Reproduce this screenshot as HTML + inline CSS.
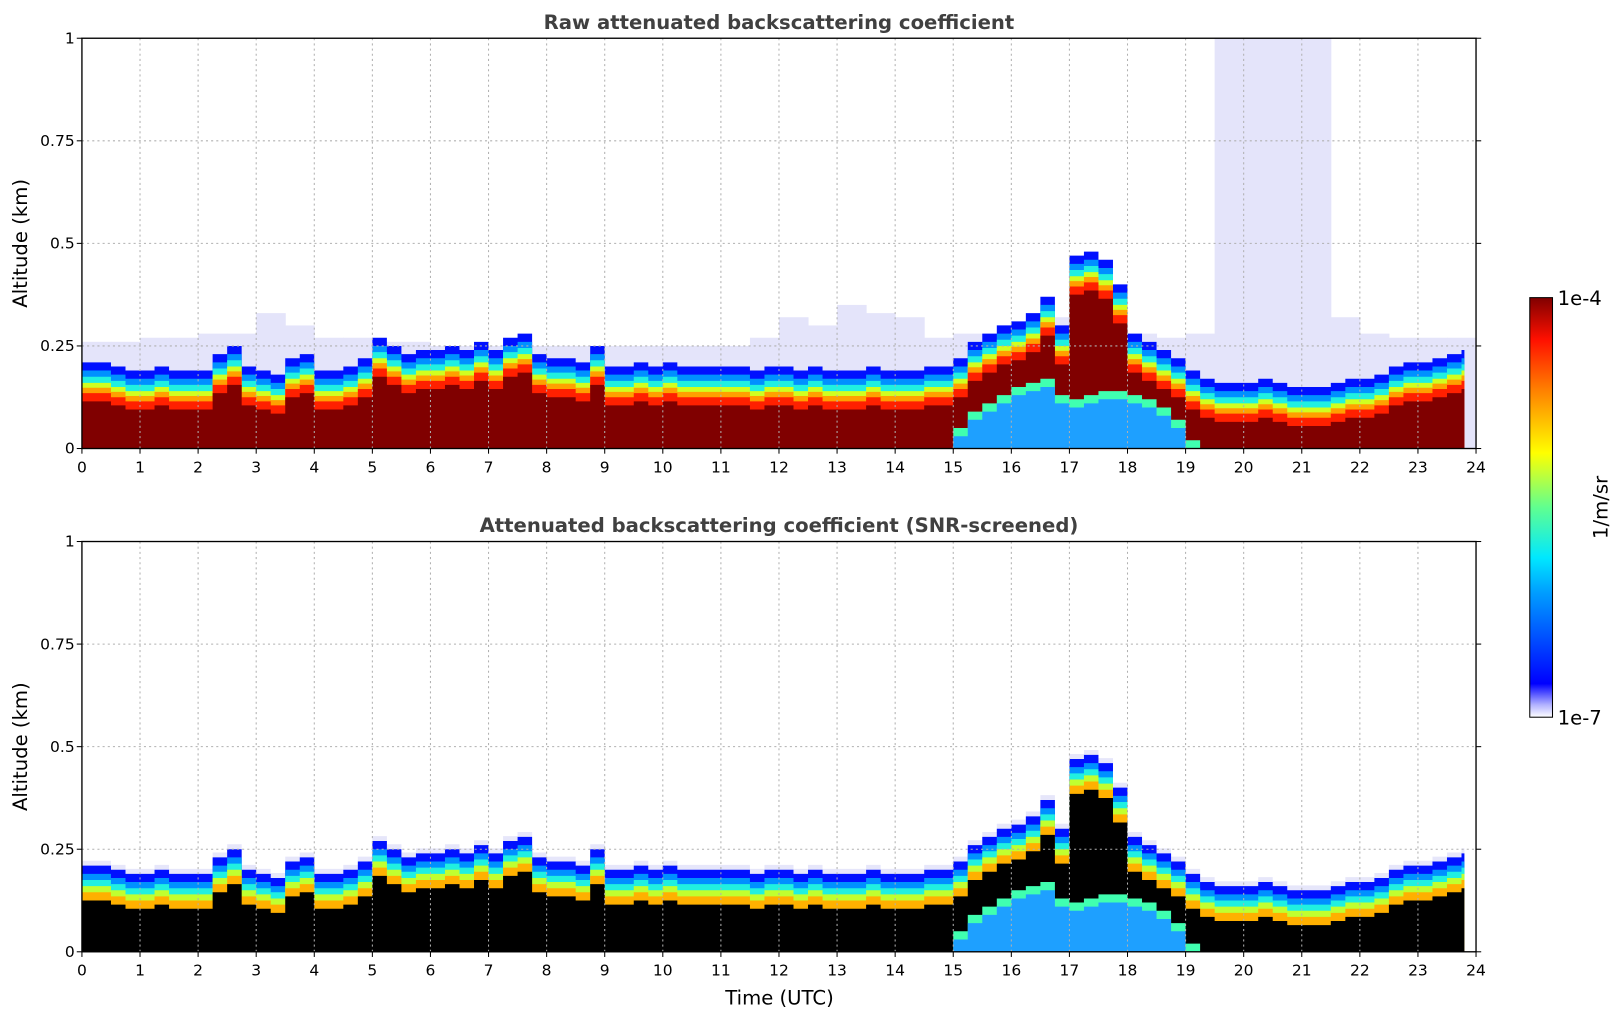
<!DOCTYPE html>
<html><head><meta charset="utf-8"><style>
body{margin:0;background:#fff;font-family:"Liberation Sans","DejaVu Sans",sans-serif}
svg text{font-family:"DejaVu Sans","Liberation Sans",sans-serif}
</style></head><body>
<svg id="c" width="1621" height="1020" viewBox="0 0 1568 987" xmlns="http://www.w3.org/2000/svg">
<defs>
<linearGradient id="jet" x1="0" y1="1" x2="0" y2="0">
<stop offset="0" stop-color="#ffffff"/><stop offset="0.03" stop-color="#b0b0ff"/><stop offset="0.08" stop-color="#0000ff"/>
<stop offset="0.3" stop-color="#00a0ff"/><stop offset="0.38" stop-color="#00e8ff"/><stop offset="0.5" stop-color="#60ff90"/>
<stop offset="0.63" stop-color="#ffff00"/><stop offset="0.78" stop-color="#ff8000"/><stop offset="0.9" stop-color="#ff1000"/><stop offset="1" stop-color="#800000"/>
</linearGradient>
</defs>
</svg>
<script>
const times=[];for(let i=0;i<96;i++)times.push(i*0.25);
const blTop=[.21,.21,.20,.19,.19,.20,.19,.19,.19,.23,.25,.20,.19,.18,.22,.23,.19,.19,.20,.22,.27,.25,.23,.24,.24,.25,.24,.26,.24,.27,.28,.23,.22,.22,.21,.25,.20,.20,.21,.20,.21,.20,.20,.20,.20,.20,.19,.20,.20,.19,.20,.19,.19,.19,.20,.19,.19,.19,.20,.20,.22,.26,.28,.30,.31,.33,.37,.30,.47,.48,.46,.40,.28,.26,.24,.22,.19,.17,.16,.16,.16,.17,.16,.15,.15,.15,.16,.17,.17,.18,.20,.21,.21,.22,.23,.24];
const lowTimes=[15,15.25,15.5,15.75,16,16.25,16.5,16.75,17,17.25,17.5,17.75,18,18.25,18.5,18.75,19];
const lowLayer=[.03,.07,.09,.11,.13,.14,.15,.11,.10,.11,.12,.12,.11,.10,.08,.05,0];
const hazeTimes=[];for(let i=0;i<48;i++)hazeTimes.push(i*0.5);
const hazeTop=[.26,.26,.27,.27,.28,.28,.33,.30,.27,.27,.26,.26,.25,.25,.25,.25,.25,.25,.25,.25,.25,.25,.25,.27,.32,.30,.35,.33,.32,.27,.28,.28,.30,.32,.32,.30,.28,.27,.28,1.0,1.0,1.0,1.0,.32,.28,.27,.27,.27];
const xTicks=[0,1,2,3,4,5,6,7,8,9,10,11,12,13,14,15,16,17,18,19,20,21,22,23,24];
const yTicks=[0,0.25,0.5,0.75,1];
const yTickLabels=["0","0.25","0.5","0.75","1"];
const endTime=23.8;
const svg=document.getElementById('c');const NS='http://www.w3.org/2000/svg';
const X0=79,X1=1428;const xs=t=>X0+(X1-X0)*t/24;
function mk(tag,attrs,parent,text){const e=document.createElementNS(NS,tag);for(const k in attrs)e.setAttribute(k,attrs[k]);if(text!==undefined)e.textContent=text;(parent||svg).appendChild(e);return e;}
function area(g,ys,off,fill,tt,vv){tt=tt||times;vv=vv||blTop;
 let d='M'+xs(tt[0])+','+ys(0);
 for(let i=0;i<tt.length;i++){const t2=(i<tt.length-1)?tt[i+1]:Math.min(tt[i]+0.25,endTime);const v=Math.max(0,vv[i]+off);d+='L'+xs(tt[i])+','+ys(v)+'L'+xs(t2)+','+ys(v);}
 d+='L'+xs(Math.min(tt[tt.length-1]+0.25,endTime))+','+ys(0)+'Z';
 const p=mk('path',{d:d,fill:fill},g);return p;}
function panel(Y0,Y1,title,screened,name){
 const ys=v=>Y1-(Y1-Y0)*v;
 const g=mk('g',{},svg);
 mk('rect',{x:X0,y:Y0,width:X1-X0,height:Y1-Y0,fill:'#fff'},g);
 if(!screened){for(let i=0;i<hazeTimes.length;i++){const r=mk('rect',{x:xs(hazeTimes[i]),y:ys(hazeTop[i]),width:xs(0.5)-xs(0)+0.5,height:ys(0)-ys(hazeTop[i]),fill:'#e4e4fa'},g);}}
 else{area(g,ys,0.012,'#e6e6fa');}
 const layers=screened?[[0,'#0010ff'],[-0.02,'#0090ff'],[-0.035,'#20f0e0'],[-0.05,'#c0ff30'],[-0.065,'#ffb000'],[-0.085,'#000000']]:
 [[0,'#0010ff'],[-0.02,'#0090ff'],[-0.035,'#20f0e0'],[-0.05,'#d0ff20'],[-0.062,'#ffa000'],[-0.075,'#ff2000'],[-0.095,'#800000']];
 layers.forEach(l=>{const p=area(g,ys,l[0],l[1]);});
 const ly=[[0.02,'#40ffb0'],[0,'#1ea0ff']];
 ly.forEach(l=>{const p=area(g,ys,l[0],l[1],lowTimes,lowLayer);});
 xTicks.forEach(t=>{if(t>0&&t<24)mk('line',{x1:xs(t),x2:xs(t),y1:Y0,y2:Y1,stroke:'#b0b0b0','stroke-dasharray':'2,3','stroke-width':1},g);});
 yTicks.forEach(v=>{if(v>0&&v<1)mk('line',{x1:X0,x2:X1,y1:ys(v),y2:ys(v),stroke:'#b0b0b0','stroke-dasharray':'2,3','stroke-width':1},g);});
 const fr=mk('rect',{x:X0,y:Y0,width:X1-X0,height:Y1-Y0,fill:'none',stroke:'#000','stroke-width':1.3},g);
 xTicks.forEach(t=>{mk('line',{x1:xs(t),x2:xs(t),y1:Y1,y2:Y1+5,stroke:'#000'},g);const tx=mk('text',{x:xs(t),y:Y1+23,'font-size':15,'text-anchor':'middle'},g,String(t));});
 yTicks.forEach((v,i)=>{mk('line',{x1:X0-5,x2:X0,y1:ys(v),y2:ys(v),stroke:'#000'},g);mk('line',{x1:X1,x2:X1+5,y1:ys(v),y2:ys(v),stroke:'#000'},g);const tx=mk('text',{x:X0-7,y:ys(v)+5,'font-size':15,'text-anchor':'end'},g,yTickLabels[i]);});
 const tt=mk('text',{x:(X0+X1)/2,y:Y0-9,'font-size':19,'font-weight':'bold','text-anchor':'middle',fill:'#404040'},g,title);
 const yt=mk('text',{transform:'translate(26,'+(Y0+Y1)/2+') rotate(-90)','font-size':19,'text-anchor':'middle'},g,'Altitude (km)');
}
panel(37,434,'Raw attenuated backscattering coefficient',false,'raw-panel');
panel(524,921,'Attenuated backscattering coefficient (SNR-screened)',true,'screened-panel');
const xt=mk('text',{x:754,y:972,'font-size':19,'text-anchor':'middle'},svg,'Time (UTC)');
const cb=mk('rect',{x:1480,y:288,width:22,height:406,fill:'url(#jet)',stroke:'#000','stroke-width':1});
const c1=mk('text',{x:1507,y:295,'font-size':19},svg,'1e-4');
const c2=mk('text',{x:1507,y:701,'font-size':19},svg,'1e-7');
const c3=mk('text',{transform:'translate(1555,491) rotate(-90)','font-size':19,'text-anchor':'middle'},svg,'1/m/sr');
</script>
</body></html>
